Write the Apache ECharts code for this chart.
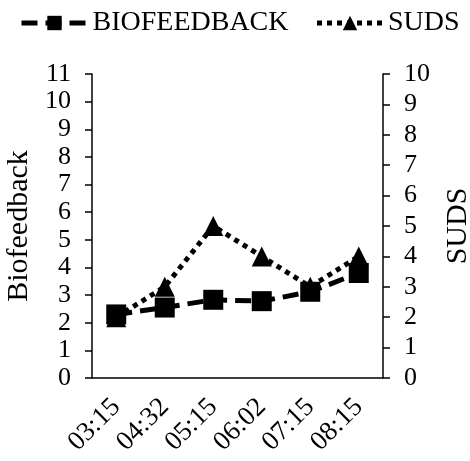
<!DOCTYPE html>
<html><head><meta charset="utf-8">
<script src="https://cdn.jsdelivr.net/npm/echarts@6/dist/echarts.min.js"></script>
<style>html,body{margin:0;padding:0;background:#fff}#c{width:470px;height:461px}</style>
</head><body><div id="c"></div>
<script>
var categories = ['03:15','04:32','05:15','06:02','07:15','08:15'];
var biofeedback = [2.3, 2.55, 2.83, 2.78, 3.12, 3.8];
var suds = [2, 3, 5, 4, 3, 4];
var leftTicks = [0, 11, 1];
var rightTicks = [0, 10, 1];

var font = 'Liberation Serif';
var chart = echarts.init(document.getElementById('c'));
chart.setOption({
  animation: false,
  textStyle: {fontFamily: font, color: '#000'},
  legend: {
    top: 4, left: 14, itemWidth: 66, itemHeight: 18, itemGap: 26,
    textStyle: {fontFamily: font, fontSize: 28, color: '#000'},
    lineStyle: {width: 5},
    data: ['BIOFEEDBACK', 'SUDS']
  },
  grid: {left: 92, right: 87, top: 74, bottom: 83, outerBoundsMode: 'none', containLabel: false},
  xAxis: {
    type: 'category', data: categories, boundaryGap: true,
    axisLine: {lineStyle: {color: '#000', width: 1.5}},
    axisTick: {show: false},
    axisLabel: {rotate: 45, interval: 0, fontFamily: font, fontSize: 27, color: '#000', margin: 25}
  },
  yAxis: [{
    type: 'value', min: leftTicks[0], max: leftTicks[1], interval: leftTicks[2],
    name: 'Biofeedback', nameLocation: 'middle', nameGap: 56, nameRotate: 90,
    nameTextStyle: {fontFamily: font, fontSize: 30, color: '#000'},
    axisLine: {show: true, lineStyle: {color: '#000', width: 1.5}},
    axisTick: {show: true, length: 7, lineStyle: {color: '#000', width: 1.5}},
    axisLabel: {fontFamily: font, fontSize: 26, color: '#000', margin: 21},
    splitLine: {show: false}
  }, {
    type: 'value', min: rightTicks[0], max: rightTicks[1], interval: rightTicks[2], position: 'right',
    name: 'SUDS', nameLocation: 'middle', nameGap: 60, nameRotate: 90,
    nameTextStyle: {fontFamily: font, fontSize: 30, color: '#000'},
    axisLine: {show: true, lineStyle: {color: '#000', width: 1.5}},
    axisTick: {show: true, length: 7, lineStyle: {color: '#000', width: 1.5}},
    axisLabel: {fontFamily: font, fontSize: 26, color: '#000', margin: 21},
    splitLine: {show: false}
  }],
  series: [{
    name: 'BIOFEEDBACK', type: 'line', yAxisIndex: 0, data: biofeedback, z: 3,
    symbol: 'rect', symbolSize: 20,
    itemStyle: {color: '#000'},
    lineStyle: {color: '#000', width: 5, type: [16, 8]}
  }, {
    name: 'SUDS', type: 'line', yAxisIndex: 1, data: suds, z: 2,
    symbol: 'triangle', symbolSize: 20,
    itemStyle: {color: '#000'},
    lineStyle: {color: '#000', width: 5, type: [5, 5]}
  }]
});
</script></body></html>
